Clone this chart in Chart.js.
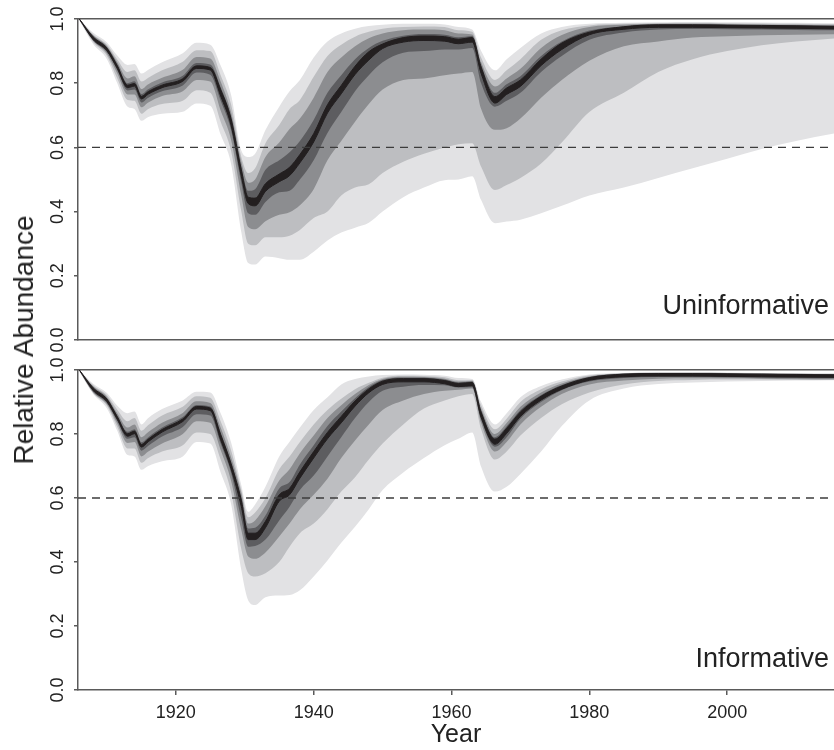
<!DOCTYPE html>
<html>
<head>
<meta charset="utf-8">
<title>Relative Abundance</title>
<script src="https://cdn.jsdelivr.net/npm/chart.js@4.4.1/dist/chart.umd.min.js"></script>
<style>
  html, body { margin: 0; padding: 0; background: #fff; }
  #wrap { position: relative; width: 834px; height: 750px; overflow: hidden; font-family: "Liberation Sans", Arial, sans-serif; }
  #top { position: absolute; left: 0; top: 0; }
  #bottom { position: absolute; left: 0; top: 350px; }
  #ylab { position: absolute; left: 24px; top: 340px; transform: translate(-50%, -50%) rotate(-90deg); font-size: 28px; color: #222; white-space: nowrap; }
</style>
</head>
<body>
<div id="wrap">
  <canvas id="top" width="834" height="360"></canvas>
  <canvas id="bottom" width="834" height="400"></canvas>
  <div id="ylab">Relative Abundance</div>
</div>
<script>
  'use strict';

  var years = [1906, 1908, 1910, 1911.5, 1913, 1914, 1915, 1916, 1918, 1921, 1923, 1925, 1926.5, 1928, 1929.5, 1930.5,
    1931.5, 1933, 1935, 1936.5, 1938, 1940, 1942, 1944, 1946, 1948, 1950, 1953, 1956, 1959, 1961, 1963, 1964.3, 1966.3,
    1968, 1970, 1973, 1976, 1980, 1985, 1990, 1995, 2000, 2005, 2010, 2016];

  var xTickYears = [1920, 1940, 1960, 1980, 2000];
  var yTickValues = [0, 0.2, 0.4, 0.6, 0.8, 1.0];
  var yTickLabels = ['0.0', '0.2', '0.4', '0.6', '0.8', '1.0'];
  var threshold = 0.6;

  // Uninformative prior: band edges, outermost low ... outermost high.
  var uOuterLo = [.995, .922, .875, .80, .727, .72, .683, .695, .705, .711, .737, .73, .64, .55, .336, .24, .235, .26, .255, .25, .25, .275, .31, .335, .35, .365, .40, .445, .475, .498, .50, .51, .436, .364, .369, .375, .395, .418, .45, .475, .505, .535, .565, .595, .62, .645];
  var uWideLo = [.997, .928, .885, .815, .748, .745, .705, .72, .735, .745, .778, .77, .68, .59, .40, .30, .295, .32, .32, .325, .343, .38, .40, .45, .475, .485, .52, .555, .58, .60, .61, .613, .54, .467, .483, .505, .55, .615, .71, .77, .835, .875, .90, .918, .93, .94];
  var uMidLo = [.998, .932, .892, .83, .765, .765, .725, .74, .76, .775, .81, .805, .715, .625, .45, .352, .345, .37, .39, .398, .42, .47, .56, .62, .68, .735, .78, .81, .815, .825, .83, .835, .72, .655, .66, .69, .755, .81, .87, .915, .93, .942, .946, .949, .951, .953];
  var uInnerLo = [.999, .933, .897, .84, .777, .78, .74, .755, .775, .793, .833, .826, .745, .655, .49, .395, .39, .43, .46, .465, .50, .56, .645, .71, .775, .825, .865, .895, .90, .905, .905, .91, .80, .727, .745, .77, .835, .885, .935, .958, .967, .969, .968, .967, .966, .965];
  var uCoreLo = [1, .936, .901, .846, .786, .791, .751, .766, .786, .806, .846, .841, .76, .67, .51, .425, .418, .463, .493, .512, .552, .617, .707, .767, .827, .872, .908, .928, .933, .931, .923, .928, .83, .738, .765, .79, .855, .905, .951, .968, .974, .974, .973, .972, .971, .969];
  var uCoreHi = [1, .944, .909, .854, .794, .799, .759, .774, .794, .814, .854, .849, .78, .69, .53, .445, .442, .487, .517, .538, .578, .643, .733, .793, .853, .898, .922, .942, .947, .945, .937, .942, .85, .758, .785, .81, .875, .925, .959, .976, .982, .982, .981, .98, .979, .977];
  var uInnerHi = [1, .946, .912, .86, .80, .806, .766, .781, .802, .823, .863, .858, .787, .697, .54, .465, .47, .53, .56, .585, .62, .685, .77, .825, .875, .91, .932, .948, .953, .951, .943, .947, .856, .77, .797, .822, .885, .93, .964, .977, .982, .982, .981, .98, .979, .978];
  var uMidHi = [1, .949, .915, .865, .815, .822, .782, .797, .817, .842, .882, .877, .805, .71, .555, .49, .50, .57, .615, .657, .69, .755, .835, .88, .915, .94, .955, .965, .967, .965, .955, .952, .865, .79, .815, .845, .91, .95, .975, .982, .985, .985, .984, .983, .982, .981];
  var uWideHi = [1, .952, .92, .874, .835, .84, .805, .817, .84, .867, .903, .90, .825, .735, .57, .52, .535, .613, .67, .72, .748, .82, .885, .92, .945, .96, .97, .975, .977, .975, .965, .96, .88, .81, .84, .875, .935, .965, .98, .985, .987, .988, .987, .986, .985, .984];
  var uOuterHi = [1, .957, .927, .886, .857, .86, .83, .842, .865, .893, .926, .92, .855, .765, .59, .57, .58, .654, .727, .775, .81, .88, .93, .955, .97, .978, .982, .985, .985, .983, .975, .967, .90, .84, .875, .91, .955, .975, .985, .988, .99, .99, .99, .989, .988, .987];

  // Informative prior: band edges, outermost low ... outermost high.
  var iOuterLo = [.995, .925, .88, .81, .734, .73, .688, .70, .715, .73, .775, .77, .68, .583, .375, .28, .266, .29, .295, .297, .312, .355, .405, .46, .51, .565, .625, .68, .725, .765, .785, .805, .698, .62, .635, .675, .745, .825, .905, .942, .956, .961, .964, .966, .967, .968];
  var iWideLo = [.997, .928, .888, .822, .755, .755, .71, .725, .745, .765, .805, .80, .72, .62, .44, .365, .355, .365, .40, .448, .49, .52, .565, .62, .665, .72, .77, .83, .88, .905, .918, .925, .815, .72, .745, .795, .85, .893, .93, .955, .966, .969, .97, .97, .969, .969];
  var iMidLo = [.998, .93, .893, .833, .772, .775, .73, .745, .77, .80, .84, .835, .75, .655, .50, .417, .41, .43, .48, .52, .565, .61, .66, .725, .78, .83, .875, .905, .925, .935, .938, .942, .835, .745, .775, .83, .885, .925, .955, .967, .973, .974, .974, .973, .972, .971];
  var iInnerLo = [.999, .933, .897, .841, .785, .79, .748, .763, .792, .822, .862, .858, .77, .68, .535, .448, .45, .47, .53, .573, .625, .67, .73, .79, .85, .90, .935, .948, .953, .952, .945, .946, .845, .76, .79, .848, .90, .937, .964, .975, .978, .978, .977, .976, .975, .974];
  var iCoreLo = [1, .936, .901, .846, .793, .801, .759, .776, .806, .839, .878, .873, .782, .692, .573, .47, .47, .507, .59, .61, .662, .725, .785, .835, .887, .929, .955, .963, .963, .957, .948, .951, .852, .768, .802, .855, .906, .94, .968, .979, .981, .981, .98, .979, .978, .977];
  var iCoreHi = [1, .944, .909, .854, .801, .809, .767, .784, .814, .847, .886, .881, .798, .708, .593, .49, .49, .527, .61, .63, .682, .745, .805, .855, .903, .941, .965, .973, .973, .967, .958, .961, .868, .784, .818, .869, .918, .95, .976, .987, .989, .989, .988, .987, .986, .985];
  var iInnerHi = [1, .946, .912, .858, .807, .815, .774, .79, .82, .853, .891, .886, .805, .713, .60, .505, .507, .545, .63, .65, .705, .765, .825, .87, .912, .947, .969, .976, .976, .97, .961, .964, .873, .79, .824, .875, .922, .953, .978, .988, .99, .99, .989, .988, .987, .986];
  var iMidHi = [1, .949, .916, .865, .82, .83, .79, .806, .835, .866, .902, .897, .82, .728, .615, .52, .53, .575, .655, .69, .74, .795, .85, .89, .925, .953, .972, .979, .978, .973, .964, .966, .88, .80, .834, .885, .93, .958, .98, .989, .991, .991, .99, .989, .988, .987];
  var iWideHi = [1, .952, .921, .876, .84, .85, .81, .828, .858, .885, .918, .913, .84, .75, .625, .54, .555, .60, .69, .73, .775, .83, .875, .91, .94, .96, .976, .982, .981, .977, .968, .969, .89, .815, .848, .90, .94, .964, .983, .99, .992, .992, .991, .99, .989, .988];
  var iOuterHi = [1, .957, .928, .888, .865, .87, .83, .85, .878, .905, .932, .93, .865, .775, .64, .557, .58, .635, .73, .776, .82, .875, .915, .955, .972, .98, .984, .986, .985, .982, .975, .972, .90, .83, .865, .915, .95, .97, .986, .991, .993, .993, .992, .991, .99, .989];

  var xMin = 1905.8;
  var xMax = 2015.5;
  var bandColors = ['#e2e2e4', '#bdbec1', '#8c8d90', '#5d5d60', '#231f20'];
  var axisColor = '#5a5a5a';
  var textColor = '#222222';
  var fontFamily = '"Liberation Sans", Arial, sans-serif';

  Chart.defaults.font.family = fontFamily;

  function toPoints(values) {
    return years.map(function (yr, i) { return { x: yr, y: values[i] }; });
  }

  /**
   * Builds one filled dataset pair per band, outer band drawn first.
   */
  function buildDatasets(bands) {
    var datasets = [];
    bands.forEach(function (pair, k) {
      var isCore = k === bands.length - 1;
      var loIndex = datasets.length;
      var edge = {
        xAxisID: 'x',
        yAxisID: 'y',
        pointRadius: 0,
        cubicInterpolationMode: 'monotone',
        borderWidth: isCore ? 1 : 0,
        borderColor: isCore ? bandColors[k] : 'rgba(0,0,0,0)'
      };
      datasets.push(Object.assign({}, edge, { data: toPoints(pair[0]), fill: false, order: 100 - k * 10 }));
      datasets.push(Object.assign({}, edge, { data: toPoints(pair[1]), fill: loIndex, backgroundColor: bandColors[k], order: 99 - k * 10 }));
    });
    // Dashed reference level.
    datasets.push({
      xAxisID: 'x',
      yAxisID: 'y',
      data: [{ x: xMin, y: threshold }, { x: xMax, y: threshold }],
      borderColor: '#3c3c3c',
      borderWidth: 1.3,
      borderDash: [8, 6],
      pointRadius: 0,
      fill: false,
      order: 0
    });
    return datasets;
  }

  // Draws the panel name in the lower right corner.
  var panelLabel = {
    id: 'panelLabel',
    afterDatasetsDraw: function (chart, args, opts) {
      var ctx = chart.ctx;
      var area = chart.chartArea;
      ctx.save();
      ctx.font = '27px ' + fontFamily;
      ctx.fillStyle = textColor;
      ctx.textAlign = 'right';
      ctx.textBaseline = 'alphabetic';
      ctx.fillText(opts.text, area.right - 5, area.bottom - opts.lift);
      ctx.restore();
    }
  };

  // Y tick labels turned 90 degrees, as in the source figure.
  var rotatedYTicks = {
    id: 'rotatedYTicks',
    afterDraw: function (chart) {
      var scale = chart.scales.y;
      var ctx = chart.ctx;
      ctx.save();
      ctx.font = '18px ' + fontFamily;
      ctx.fillStyle = textColor;
      ctx.textAlign = 'center';
      ctx.textBaseline = 'alphabetic';
      yTickValues.forEach(function (v, i) {
        ctx.save();
        ctx.translate(scale.right - 15, scale.getPixelForValue(v));
        ctx.rotate(-Math.PI / 2);
        ctx.fillText(yTickLabels[i], 0, 0);
        ctx.restore();
      });
      ctx.restore();
    }
  };

  function panelConfig(bands, label, lift, isBottom) {
    return {
      type: 'line',
      data: { datasets: buildDatasets(bands) },
      plugins: [panelLabel, rotatedYTicks],
      options: {
        responsive: false,
        animation: false,
        events: [],
        layout: { padding: 0 },
        plugins: {
          legend: { display: false },
          tooltip: { enabled: false },
          panelLabel: { text: label, lift: lift }
        },
        scales: {
          x: {
            type: 'linear',
            position: 'bottom',
            min: xMin,
            max: xMax,
            afterFit: function (s) { s.height = isBottom ? 60 : 20; },
            afterBuildTicks: function (s) { s.ticks = xTickYears.map(function (v) { return { value: v }; }); },
            grid: { display: isBottom, drawOnChartArea: false, drawTicks: true, tickLength: 5, color: axisColor, lineWidth: 1.5 },
            border: { display: true, color: axisColor, width: 1.5 },
            ticks: { display: isBottom, color: textColor, padding: 7, font: { size: 18 }, callback: function (v) { return String(v); } },
            title: { display: isBottom, text: 'Year', color: textColor, font: { size: 25 }, padding: { top: 0, bottom: 0 } }
          },
          xTop: {
            type: 'linear',
            position: 'top',
            min: xMin,
            max: xMax,
            afterFit: function (s) { s.height = isBottom ? 20 : 19; },
            grid: { display: false },
            border: { display: true, color: axisColor, width: 1.5 },
            ticks: { display: false }
          },
          y: {
            type: 'linear',
            position: 'left',
            min: 0,
            max: 1,
            afterFit: function (s) { s.width = 78; },
            afterBuildTicks: function (s) { s.ticks = yTickValues.map(function (v) { return { value: v }; }); },
            grid: { display: true, drawOnChartArea: false, drawTicks: true, tickLength: 4, color: axisColor, lineWidth: 1.5 },
            border: { display: true, color: axisColor, width: 1.5 },
            ticks: { display: false }
          }
        }
      }
    };
  }

  new Chart(document.getElementById('top'), panelConfig([
    [uOuterLo, uOuterHi], [uWideLo, uWideHi], [uMidLo, uMidHi], [uInnerLo, uInnerHi], [uCoreLo, uCoreHi]
  ], 'Uninformative', 26, false));

  new Chart(document.getElementById('bottom'), panelConfig([
    [iOuterLo, iOuterHi], [iWideLo, iWideHi], [iMidLo, iMidHi], [iInnerLo, iInnerHi], [iCoreLo, iCoreHi]
  ], 'Informative', 23, true));
</script>
</body>
</html>
